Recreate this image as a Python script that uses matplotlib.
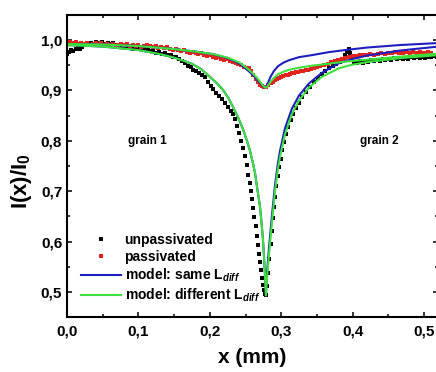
import matplotlib
matplotlib.use('Agg')
import matplotlib.pyplot as plt
from matplotlib.ticker import MultipleLocator, FuncFormatter

plt.rcParams['font.family'] = ['Liberation Sans', 'DejaVu Sans']
plt.rcParams['font.weight'] = 'bold'
plt.rcParams['mathtext.fontset'] = 'custom'
plt.rcParams['mathtext.rm'] = 'Liberation Sans:bold'
plt.rcParams['mathtext.it'] = 'Liberation Sans:italic:bold'
plt.rcParams['mathtext.bf'] = 'Liberation Sans:bold'

# measured profile, unpassivated grain boundary
x_unpass = [0.000, 0.003, 0.006, 0.009, 0.012, 0.015, 0.018, 0.021, 0.025, 0.029,
            0.033, 0.037, 0.041, 0.045, 0.049, 0.053, 0.057, 0.061, 0.065, 0.069,
            0.073, 0.077, 0.081, 0.085, 0.089, 0.093, 0.097, 0.101, 0.105, 0.109,
            0.113, 0.117, 0.121, 0.125, 0.129, 0.133, 0.137, 0.141, 0.145, 0.149,
            0.153, 0.157, 0.161, 0.165, 0.169, 0.173, 0.177, 0.181, 0.185, 0.189,
            0.193, 0.197, 0.201, 0.205, 0.209, 0.213, 0.217, 0.221, 0.225, 0.229,
            0.232, 0.235, 0.238, 0.241, 0.244, 0.2465, 0.249, 0.2515, 0.254, 0.256,
            0.258, 0.2595, 0.261, 0.2625, 0.264, 0.2655, 0.267, 0.2685, 0.270, 0.2715,
            0.273, 0.2745, 0.276, 0.2775,
            0.279, 0.2805, 0.282, 0.2835, 0.285, 0.2865, 0.288, 0.2895, 0.291, 0.293,
            0.295, 0.297, 0.299, 0.3015, 0.304, 0.307, 0.310, 0.3135, 0.317, 0.321,
            0.325, 0.3295, 0.3345, 0.340, 0.3455, 0.351, 0.3565, 0.362, 0.367, 0.372,
            0.377, 0.382, 0.386, 0.389, 0.392, 0.3945, 0.397, 0.3995, 0.4025, 0.406,
            0.410, 0.414, 0.418, 0.422, 0.426, 0.430, 0.434, 0.438, 0.442, 0.446,
            0.450, 0.454, 0.458, 0.462, 0.466, 0.470, 0.474, 0.478, 0.482, 0.486,
            0.490, 0.494, 0.498, 0.502, 0.506, 0.510, 0.514, 0.518]
y_unpass = [0.972, 0.976, 0.980, 0.978, 0.983, 0.985, 0.983, 0.987, 0.990, 0.993,
            0.995, 0.992, 0.996, 0.994, 0.997, 0.993, 0.995, 0.992, 0.994, 0.990,
            0.991, 0.988, 0.989, 0.986, 0.987, 0.983, 0.985, 0.982, 0.984, 0.980,
            0.982, 0.978, 0.979, 0.975, 0.977, 0.973, 0.974, 0.970, 0.971, 0.967,
            0.966, 0.962, 0.958, 0.955, 0.949, 0.946, 0.941, 0.938, 0.934, 0.931,
            0.927, 0.916, 0.908, 0.903, 0.895, 0.889, 0.882, 0.875, 0.868, 0.860,
            0.853, 0.843, 0.830, 0.815, 0.800, 0.786, 0.770, 0.752, 0.733, 0.717,
            0.700, 0.684, 0.667, 0.648, 0.630, 0.612, 0.594, 0.576, 0.559, 0.543,
            0.527, 0.514, 0.503, 0.496,
            0.495, 0.512, 0.538, 0.566, 0.595, 0.622, 0.646, 0.668, 0.688, 0.710,
            0.730, 0.748, 0.764, 0.782, 0.798, 0.814, 0.828, 0.842, 0.854, 0.866,
            0.876, 0.887, 0.897, 0.907, 0.916, 0.924, 0.932, 0.939, 0.944, 0.949,
            0.953, 0.957, 0.963, 0.970, 0.977, 0.982, 0.975, 0.965, 0.957, 0.955,
            0.958, 0.955, 0.959, 0.957, 0.960, 0.958, 0.961, 0.959, 0.962, 0.960,
            0.963, 0.961, 0.964, 0.962, 0.964, 0.963, 0.965, 0.963, 0.966, 0.964,
            0.966, 0.965, 0.967, 0.965, 0.967, 0.966, 0.968, 0.967]

# measured profile, passivated grain boundary
x_pass = [0.000, 0.004, 0.008, 0.012, 0.016, 0.020, 0.024, 0.028, 0.032, 0.036,
          0.040, 0.044, 0.048, 0.052, 0.056, 0.060, 0.064, 0.068, 0.072, 0.076,
          0.080, 0.084, 0.088, 0.092, 0.096, 0.100, 0.104, 0.108, 0.112, 0.116,
          0.120, 0.124, 0.128, 0.132, 0.136, 0.140, 0.144, 0.148, 0.152, 0.156,
          0.160, 0.164, 0.168, 0.172, 0.176, 0.180, 0.184, 0.188, 0.192, 0.196,
          0.200, 0.204, 0.208, 0.212, 0.216, 0.220, 0.224, 0.228, 0.232, 0.236,
          0.240, 0.244, 0.248, 0.252, 0.255, 0.258, 0.261, 0.264, 0.267, 0.270,
          0.273, 0.276, 0.279, 0.282, 0.285, 0.288, 0.291, 0.294, 0.297, 0.300,
          0.303, 0.306, 0.309, 0.312, 0.315, 0.318, 0.321, 0.324, 0.327, 0.330,
          0.334, 0.338, 0.342, 0.346, 0.350, 0.355, 0.360, 0.365, 0.370, 0.375,
          0.380, 0.385, 0.390, 0.395, 0.400, 0.405, 0.410, 0.415, 0.420, 0.425,
          0.430, 0.435, 0.440, 0.445, 0.450, 0.455, 0.460, 0.465, 0.470, 0.475,
          0.480, 0.485, 0.490, 0.495, 0.500, 0.505, 0.510]
y_pass = [0.995, 0.997, 0.994, 0.996, 0.993, 0.995, 0.992, 0.994, 0.991, 0.993,
          0.995, 0.992, 0.994, 0.991, 0.993, 0.990, 0.992, 0.989, 0.991, 0.993,
          0.990, 0.992, 0.989, 0.991, 0.988, 0.990, 0.987, 0.989, 0.991, 0.988,
          0.986, 0.988, 0.985, 0.987, 0.984, 0.986, 0.983, 0.981, 0.983, 0.980,
          0.978, 0.980, 0.977, 0.975, 0.977, 0.975, 0.972, 0.974, 0.971, 0.969,
          0.970, 0.967, 0.965, 0.966, 0.963, 0.961, 0.962, 0.958, 0.956, 0.955,
          0.952, 0.950, 0.947, 0.945, 0.944, 0.938, 0.930, 0.923, 0.916, 0.911,
          0.908, 0.906, 0.906, 0.910, 0.914, 0.917, 0.920, 0.922, 0.924, 0.926,
          0.928, 0.930, 0.931, 0.932, 0.934, 0.935, 0.936, 0.937, 0.938, 0.939,
          0.940, 0.941, 0.942, 0.944, 0.946, 0.948, 0.951, 0.953, 0.956, 0.959,
          0.961, 0.963, 0.965, 0.967, 0.968, 0.969, 0.970, 0.971, 0.970, 0.972,
          0.971, 0.973, 0.974, 0.973, 0.975, 0.974, 0.976, 0.975, 0.974, 0.976,
          0.975, 0.976, 0.974, 0.976, 0.975, 0.976, 0.975]

# model curves, unpassivated (deep dip)
x_mod_unpass = [0.000, 0.050, 0.100, 0.130, 0.150, 0.165, 0.176, 0.188, 0.200, 0.210,
                0.2185, 0.226, 0.2325, 0.240, 0.2465, 0.252, 0.2563, 0.260, 0.2633,
                0.2665, 0.2703, 0.2725, 0.2745, 0.2765, 0.2785, 0.2805, 0.283, 0.287,
                0.2913, 0.2955, 0.2983, 0.3053, 0.315, 0.325, 0.339, 0.357, 0.381,
                0.399, 0.420, 0.466, 0.520]
y_same_unpass = [0.990, 0.987, 0.980, 0.972, 0.965, 0.958, 0.952, 0.942, 0.927, 0.914,
                 0.901, 0.885, 0.867, 0.845, 0.823, 0.800, 0.780, 0.758, 0.736,
                 0.705, 0.669, 0.636, 0.603, 0.555, 0.493, 0.545, 0.590, 0.652,
                 0.712, 0.757, 0.780, 0.825, 0.864, 0.890, 0.914, 0.935, 0.954,
                 0.962, 0.969, 0.979, 0.987]
y_diff_unpass = [0.990, 0.987, 0.980, 0.972, 0.965, 0.958, 0.952, 0.942, 0.927, 0.914,
                 0.901, 0.885, 0.867, 0.845, 0.823, 0.800, 0.780, 0.758, 0.736,
                 0.705, 0.669, 0.636, 0.603, 0.555, 0.493, 0.535, 0.575, 0.637,
                 0.700, 0.745, 0.768, 0.813, 0.853, 0.880, 0.906, 0.927, 0.944,
                 0.951, 0.956, 0.964, 0.970]

# model curves, passivated (shallow dip)
x_mod_pass = [0.000, 0.050, 0.100, 0.150, 0.180, 0.2045, 0.225, 0.242, 0.253, 0.260,
              0.266, 0.271, 0.2755, 0.2785, 0.2815, 0.285, 0.290, 0.2955, 0.303,
              0.311, 0.325, 0.343, 0.367, 0.389, 0.420, 0.466, 0.520]
y_same_pass = [0.992, 0.991, 0.988, 0.982, 0.977, 0.972, 0.964, 0.953, 0.940, 0.931,
               0.922, 0.914, 0.908, 0.905, 0.915, 0.927, 0.939, 0.948, 0.955,
               0.960, 0.966, 0.970, 0.976, 0.980, 0.985, 0.990, 0.994]
y_diff_pass = [0.992, 0.991, 0.988, 0.982, 0.977, 0.972, 0.965, 0.955, 0.943, 0.934,
               0.925, 0.916, 0.908, 0.905, 0.910, 0.917, 0.925, 0.932, 0.937,
               0.941, 0.945, 0.949, 0.953, 0.957, 0.961, 0.967, 0.973]

labels = ['unpassivated', 'passivated',
          r'model: same L$_{diff}$', r'model: different L$_{diff}$']

fig = plt.figure(figsize=(4.36, 3.72), dpi=100)
ax = fig.add_axes([0.1537, 0.1473, 0.8516, 0.8129])

blue = '#1f1fbf'
green = '#3ee03e'

h1, = ax.plot(x_unpass, y_unpass, 's', color='black', ms=2.8, mew=0, label=labels[0])
h2, = ax.plot(x_pass, y_pass, 's', color='#e0231c', ms=2.8, mew=0, label=labels[1])
h3, = ax.plot(x_mod_unpass, y_same_unpass, '-', color=blue, lw=1.5, label=labels[2])
ax.plot(x_mod_pass, y_same_pass, '-', color=blue, lw=1.5)
h4, = ax.plot(x_mod_unpass, y_diff_unpass, '-', color=green, lw=1.5, label=labels[3])
ax.plot(x_mod_pass, y_diff_pass, '-', color=green, lw=1.5)

ax.set_xlim(0, 0.52)
ax.set_ylim(0.45, 1.05)
ax.xaxis.set_major_locator(MultipleLocator(0.1))
ax.xaxis.set_minor_locator(MultipleLocator(0.05))
ax.yaxis.set_major_locator(MultipleLocator(0.1))
ax.yaxis.set_minor_locator(MultipleLocator(0.05))
comma = FuncFormatter(lambda v, p: ('%.1f' % v).replace('.', ','))
ax.xaxis.set_major_formatter(comma)
ax.yaxis.set_major_formatter(comma)
ax.tick_params(which='both', direction='in', top=True, right=True, width=1.1,
               labelsize=11)
ax.tick_params(which='major', length=3.6)
ax.tick_params(which='minor', length=2.2)
ax.tick_params(axis='x', which='major', pad=5)
ax.tick_params(axis='y', which='major', pad=3.5)
for s in ax.spines.values():
    s.set_linewidth(1.5)

ax.set_xlabel('x (mm)', fontsize=15, fontweight='bold', labelpad=7)
ax.set_ylabel(r'I(x)/I$_0$', fontsize=16, fontweight='bold')
ax.yaxis.set_label_coords(-0.09, 0.45)

ax.text(0.113, 0.8, 'grain 1', ha='center', va='center', fontsize=8.5, fontweight='bold')
ax.text(0.438, 0.8, 'grain 2', ha='center', va='center', fontsize=8.5, fontweight='bold')

leg = ax.legend(handles=[h1, h2, h3, h4], loc='upper left',
                bbox_to_anchor=(0.037, 0.278), frameon=False, fontsize=10,
                handlelength=2.9, handletextpad=0.25, labelspacing=0.2,
                borderpad=0, borderaxespad=0, numpoints=1, markerscale=1.2)

fig.savefig('out.png', dpi=100)
